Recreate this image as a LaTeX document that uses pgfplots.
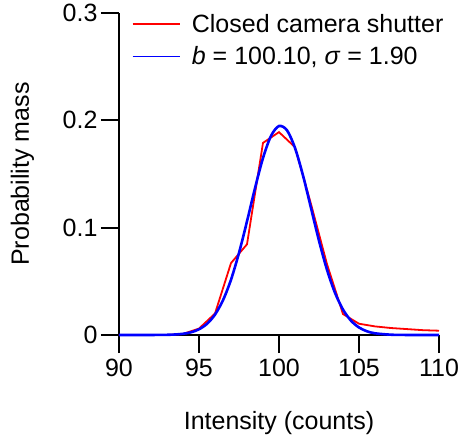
\documentclass[border=0pt]{standalone}
\usepackage{fontspec}
\setmainfont{Liberation Sans}
\usepackage{pgfplots}
\pgfplotsset{compat=1.18}
\begin{document}
\begin{tikzpicture}[font=\fontsize{25}{29}\selectfont]
\useasboundingbox (-119pt,-101pt) rectangle (341pt,335pt);
\begin{axis}[
  scale only axis,
  width=320pt, height=322pt,
  xmin=90, xmax=110, ymin=0, ymax=0.3,
  axis lines*=left,
  xtick={90,95,100,105,110},
  ytick={0,0.1,0.2,0.3},
  yticklabels={0,0.1,0.2,0.3},
  tick align=outside,
  major tick length=18pt,
  axis line style={line width=2pt, black},
  major tick style={line width=2pt, black},
  /pgf/number format/assume math mode=true,
  tick label style={font=\fontsize{25}{29}\selectfont},
  xticklabel style={yshift=-3pt},
  label style={font=\fontsize{25}{29}\selectfont},
  xlabel={Intensity (counts)},
  ylabel={Probability mass},
  xlabel style={at={(axis description cs:0.5,-0.272)}, anchor=center},
  ylabel style={at={(axis description cs:-0.302,0.5)}, anchor=center},
  legend style={draw=none, fill=none, at={(axis description cs:0.03,1.01)}, anchor=north west,
    font=\fontsize{25}{29}\selectfont, row sep=9pt},
  legend cell align=left,
  legend image code/.code={\draw[#1, line width=1.6pt] (0pt,0pt) -- (47pt,0pt); \path (56pt,0pt);},
  clip=false,
]
\addplot[red, line width=1.8pt] coordinates {
(90,0) (91,0) (92,0) (93,0) (94,0.001) (95,0.006) (96,0.020) (97,0.067) (98,0.0845)
(99,0.179) (100,0.189) (101,0.175) (102,0.122) (103,0.066) (104,0.0195) (105,0.0105)
(106,0.008) (107,0.0065) (108,0.0055) (109,0.0045) (110,0.004)
};
\addlegendentry{Closed camera shutter}
\addplot[blue, line width=2.6pt, smooth] coordinates {
(90,0) (91,0.000002) (92,0.000022) (93,0.00018) (93.5,0.00047) (94,0.00113) (94.5,0.00254)
(95,0.00532) (95.5,0.0104) (96,0.0190) (96.5,0.0324) (97,0.0515) (97.5,0.0765)
(98,0.1059) (98.5,0.1368) (99,0.1649) (99.5,0.1855) (100,0.1947) (100.5,0.1907)
(101,0.1743) (101.5,0.1486) (102,0.1183) (102.5,0.0878) (103,0.0608) (103.5,0.0393)
(104,0.0237) (104.5,0.01335) (105,0.00701) (105.5,0.00344) (106,0.00157) (107,0.00027)
(108,0.000034) (109,0.000003) (110,0)
};
\addlegendentry{\textit{b} = 100.10, \textit{σ} = 1.90}
\end{axis}
\end{tikzpicture}
\end{document}
